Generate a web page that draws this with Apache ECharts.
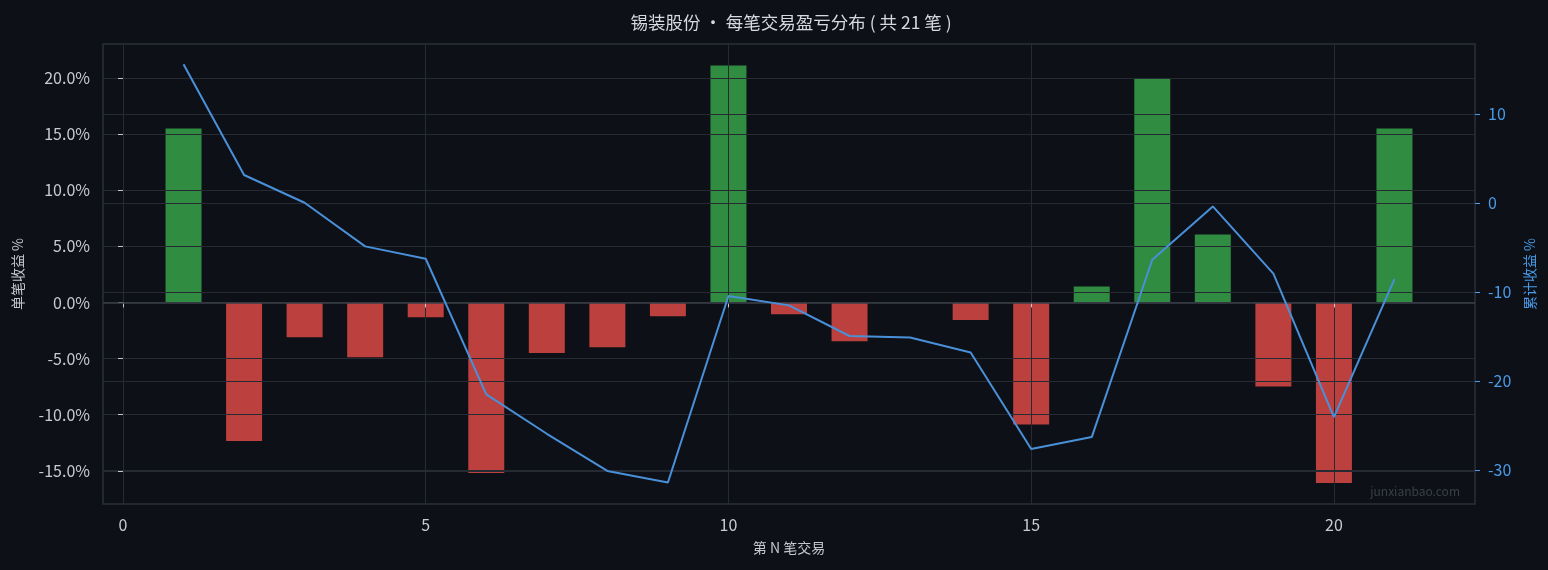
<!DOCTYPE html>
<html>
<head>
<meta charset="utf-8">
<script src="https://cdn.jsdelivr.net/npm/echarts@6/dist/echarts.min.js"></script>
<style>
html,body{margin:0;padding:0;background:#0d1017;}
#c{width:1548px;height:570px;}
</style>
</head>
<body>
<div id="c"></div>
<script>
const tradeNo = [1,2,3,4,5,6,7,8,9,10,11,12,13,14,15,16,17,18,19,20,21];
const tradeReturns = [15.5,-12.35,-3.09,-4.87,-1.31,-15.2,-4.51,-3.98,-1.22,21.1,-1.04,-3.45,0,-1.57,-10.86,1.42,19.95,6.05,-7.48,-16.09,15.5];
const cumReturns = [15.6,3.15,0.03,-4.87,-6.26,-21.5,-25.93,-30.1,-31.4,-10.45,-11.5,-14.94,-15.1,-16.8,-27.64,-26.3,-6.37,-0.38,-7.94,-24.05,-8.54];
const xTicks = [0,5,10,15,20];
const leftTicks = [-15,-10,-5,0,5,10,15,20];
const rightTicks = [-30,-20,-10,0,10];

const GREEN = '#2f8c41', RED = '#bb403e', BLUE = '#4a90d9';
const barData = tradeNo.map((n,i)=>({value:[n,tradeReturns[i]], itemStyle:{color: tradeReturns[i] >= 0 ? GREEN : RED}}));
const lineData = tradeNo.map((n,i)=>[n,cumReturns[i]]);

const chart = echarts.init(document.getElementById('c'), null, {renderer:'canvas'});
const font = '"Noto Sans CJK SC", "Noto Sans", sans-serif';
chart.setOption({
  backgroundColor:'#0d1017',
  animation:false,
  textStyle:{fontFamily:font},
  title:{text:'锡装股份 · 每笔交易盈亏分布 ( 共 21 笔 )', left:786, textAlign:'center', top:9,
    textStyle:{color:'#d6dae0', fontSize:17.5, fontWeight:'normal', fontFamily:font}},
  grid:{left:103, right:73, top:44, bottom:66, show:true, borderColor:'#2b2f38', borderWidth:1.5, backgroundColor:'transparent'},
  xAxis:{type:'value', min:-0.33, max:22.33, z:10,
    name:'第 N 笔交易', nameLocation:'middle', nameGap:37,
    nameTextStyle:{color:'#c4c8ce', fontSize:14, fontFamily:font},
    axisLine:{show:false},
    axisTick:{show:true, customValues:xTicks, length:5, lineStyle:{color:'#c4c8ce'}},
    axisLabel:{customValues:xTicks, color:'#c8ccd2', fontSize:16, margin:13, fontFamily:font},
    splitLine:{show:true, lineStyle:{color:'#262a32', width:1}}},
  yAxis:[
    {type:'value', min:-17.95, max:23.02, z:10, position:'left',
     name:'单笔收益 %', nameLocation:'middle', nameGap:78, nameRotate:90,
     nameTextStyle:{color:'#c4c8ce', fontSize:14, fontFamily:font},
     axisLine:{show:false},
     axisTick:{show:true, customValues:leftTicks, length:5, lineStyle:{color:'#c4c8ce'}},
     axisLabel:{customValues:leftTicks, color:'#c8ccd2', fontSize:16, margin:13,
       formatter:v=>v.toFixed(1)+'%', fontFamily:font},
     splitLine:{show:true, lineStyle:{color:'#262a32', width:1}}},
    {type:'value', min:-33.82, max:17.87, z:10, position:'right',
     name:'累计收益 %', nameLocation:'middle', nameGap:38, nameRotate:90,
     nameTextStyle:{color:'#4a9be8', fontSize:14, fontFamily:font},
     axisLine:{show:false},
     axisTick:{show:true, customValues:rightTicks, length:5, lineStyle:{color:'#4a9be8'}},
     axisLabel:{customValues:rightTicks, color:'#4a9be8', fontSize:16, margin:13, fontFamily:font},
     splitLine:{show:true, lineStyle:{color:'#262a32', width:1}}}
  ],
  series:[
    {type:'bar', data:barData, barWidth:36, z:1, yAxisIndex:0,
     markLine:{silent:true, symbol:'none', label:{show:false}, z:11,
       lineStyle:{color:'#3a3e47', width:1.5, type:'solid'}, data:[{yAxis:0}]}},
    {type:'line', data:lineData, yAxisIndex:1, z:20, showSymbol:false, symbol:'none',
     lineStyle:{color:BLUE, width:2}}
  ],
  graphic:[{type:'text', right:88, top:485, z:50,
    style:{text:'junxianbao.com', fill:'#3a3f49', fontSize:12, fontFamily:font}}]
});
</script>
</body>
</html>
